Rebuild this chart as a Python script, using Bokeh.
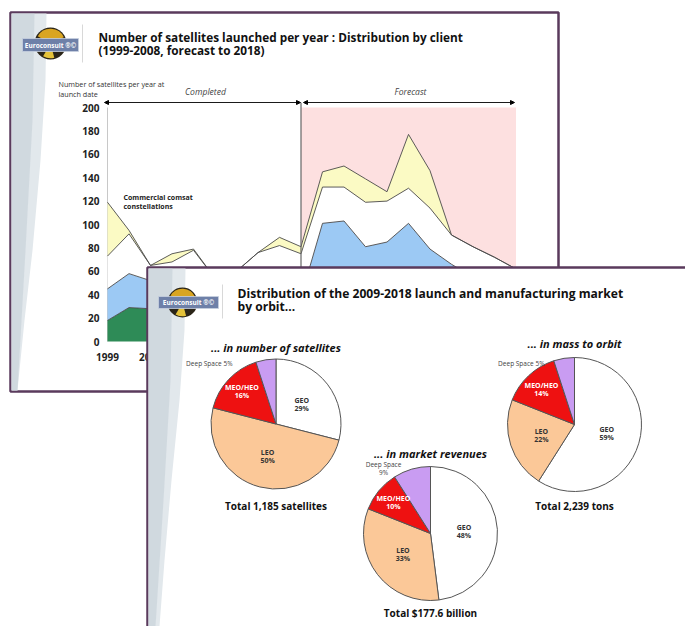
import numpy as np
from bokeh.plotting import figure
from bokeh.models import Range1d, Arrow, NormalHead, ColumnDataSource
from bokeh.core.properties import value
from bokeh.embed import file_html
from bokeh.resources import INLINE

W, H = 685, 626

# ---- launches per year, stacked by client (1999-2008 actual, 2009-2018 forecast)
YEARS = list(range(1999, 2019))
government = [18, 29, 28, 26, 25, 22, 20, 22, 24, 18, 30, 32, 28, 28, 30, 26, 24, 22, 20, 18]
commercial_geo = [27, 29, 24, 22, 25, 18, 22, 23, 26, 20, 71, 71, 53, 57, 71, 53, 42, 33, 30, 27]
other_clients = [28, 34, 13, 20, 28, 14, 18, 31, 32, 37, 31, 29, 38, 35, 30, 35, 25, 26, 22, 17]
constellations = [46, 3, 0, 7, 1, 0, 0, 0, 7, 6, 13, 18, 20, 8, 46, 32, 0, 0, 0, 0]
FORECAST_START = 2008
Y_TICKS = [0, 20, 40, 60, 80, 100, 120, 140, 160, 180, 200]
X_TICKS = list(range(1999, 2019, 2))

# ---- market split by orbit, 2009-2018 (percent)
ORBITS = ["GEO", "LEO", "MEO/HEO", "Deep Space"]
share_count = [29, 50, 16, 5]
share_mass = [59, 22, 14, 5]
share_revenue = [48, 33, 10, 9]
TOTALS = ["Total 1,185 satellites", "Total 2,239 tons", "Total $177.6 billion"]
SUBTITLES = ["... in number of satellites", "... in mass to orbit", "... in market revenues"]

ORBIT_COLORS = ["#ffffff", "#fbc898", "#ee1111", "#c99cf2"]
ORBIT_TEXT = ["#333333", "#333333", "#ffffff", "#444444"]
LABEL_RADIUS = [0.50, 0.52, 0.72, 0.0]

FRAME = "#5a3a5c"
FONT = "Open Sans"

p = figure(width=W, height=H, x_range=Range1d(0, W), y_range=Range1d(0, H),
           output_backend="svg", toolbar_location=None, min_border=0,
           x_axis_location=None, y_axis_location=None)
p.grid.visible = False
p.outline_line_color = None
p.background_fill_color = "white"
p.border_fill_color = "white"


def Y(py):
    """screen row -> canvas y"""
    return H - py


def label(x, py, txt, size, style="normal", align="left", baseline="middle",
          color="#222222", **kw):
    p.text(x=[x], y=[Y(py)], text=[txt], text_font=value(FONT),
           text_font_size=f"{size}px", text_font_style=style, text_align=align,
           text_baseline=baseline, text_color=color, **kw)


def logo(gx, gy, r, bx0, bx1, by0, by1, sep_x, sep_y0, sep_y1):
    p.circle(x=[gx], y=[Y(gy)], radius=r, radius_units="screen",
             fill_color="#2b2518", line_color=None)
    p.wedge(x=[gx], y=[Y(gy)], radius=r * 0.92, radius_units="screen",
            start_angle=np.radians(25), end_angle=np.radians(150),
            fill_color="#d9a522", line_color=None)
    p.wedge(x=[gx], y=[Y(gy)], radius=r * 0.92, radius_units="screen",
            start_angle=np.radians(240), end_angle=np.radians(285),
            fill_color="#e4c23a", line_color=None)
    p.quad(left=[bx0], right=[bx1], bottom=[Y(by1)], top=[Y(by0)],
           fill_color="#6e80a8", line_color="#c8d0e0", line_width=0.8)
    p.text(x=[(bx0 + bx1) / 2], y=[Y((by0 + by1) / 2)], text=["Euroconsult ®©"],
           text_font=value(FONT), text_font_size="6.5px", text_font_style="bold",
           text_align="center", text_baseline="middle", text_color="white")
    p.segment(x0=[sep_x], y0=[Y(sep_y0)], x1=[sep_x], y1=[Y(sep_y1)],
              line_color="#d8d8d8", line_width=1)


# ================= slide 1: launches per year =================
p.quad(left=[10], right=[558], bottom=[Y(391)], top=[Y(12)],
       fill_color="white", line_color=FRAME, line_width=2.5)
p.patch(x=[11, 46, 45, 40, 32, 24, 17, 11],
        y=[Y(13), Y(13), Y(80), Y(160), Y(250), Y(320), Y(390), Y(390)],
        fill_color="#e2e8ec", line_color=None)
p.patch(x=[11, 34, 32, 25, 17, 11],
        y=[Y(13), Y(13), Y(120), Y(250), Y(390), Y(390)],
        fill_color="#c9d3da", line_color=None, fill_alpha=0.7)
logo(50, 43, 16, 22, 78, 38, 51, 82, 24, 62)

label(98, 36, "Number of satellites launched per year : Distribution by client", 11.8,
      "bold", baseline="alphabetic", color="#111111")
label(98, 49, "(1999-2008, forecast to 2018)", 11.8, "bold", baseline="alphabetic",
      color="#111111")
label(58, 83, "Number of satellites per year at", 7.2, color="#333333")
label(58, 93, "launch date", 7.2, color="#333333")
label(205, 91, "Completed", 8.6, "italic", align="center", color="#444444")
label(410, 91, "Forecast", 8.6, "italic", align="center", color="#444444")

# chart scales: first/last year and 0/200 rows on screen
PX_FIRST, PX_LAST = 107.0, 515.5
PY_ZERO, PY_TOP = 341.0, 107.0
ppy = (PX_LAST - PX_FIRST) / (YEARS[-1] - YEARS[0])
ppu = (PY_ZERO - PY_TOP) / Y_TICKS[-1]
x0 = YEARS[0] - PX_FIRST / ppy
p.extra_x_ranges = {"yr": Range1d(x0, x0 + W / ppy)}
p.extra_y_ranges = {"val": Range1d(-(H - PY_ZERO) / ppu, PY_ZERO / ppu)}
R = dict(x_range_name="yr", y_range_name="val")

p.quad(left=[FORECAST_START], right=[YEARS[-1]], bottom=[0], top=[Y_TICKS[-1]],
       fill_color="#fde0e0", line_color=None, **R)
p.segment(x0=[YEARS[0]], y0=[0], x1=[YEARS[0]], y1=[Y_TICKS[-1]],
          line_color="#c8c8c8", line_width=1, **R)

src = ColumnDataSource(dict(year=YEARS, government=government,
                            commercial_geo=commercial_geo,
                            other_clients=other_clients,
                            constellations=constellations))
stack = ["government", "commercial_geo", "other_clients", "constellations"]
p.varea_stack(stackers=stack, x="year",
              color=["#2e8b57", "#9cc9f4", "#ffffff", "#fbfac4"], source=src, **R)
p.vline_stack(stackers=stack, x="year", color="#4a4a4a", line_width=0.9,
              source=src, **R)

p.segment(x0=[FORECAST_START], y0=[0], x1=[FORECAST_START], y1=[Y_TICKS[-1] + 4],
          line_color="#666666", line_width=1.2, **R)

for xa, xb in [(104, 300), (303, 514)]:
    p.add_layout(Arrow(start=NormalHead(size=4, fill_color="black", line_color="black"),
                       end=NormalHead(size=4, fill_color="black", line_color="black"),
                       x_start=xa, y_start=Y(102), x_end=xb, y_end=Y(102),
                       line_color="black", line_width=0.9))

p.text(x=[YEARS[0]] * len(Y_TICKS), y=Y_TICKS, text=[str(t) for t in Y_TICKS],
       x_offset=-8, text_align="right", text_baseline="middle",
       text_font=value(FONT), text_font_size="10px", text_font_style="bold",
       text_color="#222222", **R)
p.text(x=X_TICKS, y=[0] * len(X_TICKS), text=[str(t) for t in X_TICKS],
       y_offset=15, text_align="center", text_baseline="middle",
       text_font=value(FONT), text_font_size="10px", text_font_style="bold",
       text_color="#222222", **R)

label(123, 197, "Commercial comsat", 7, "bold", color="#222222")
label(123, 206, "constellations", 7, "bold", color="#222222")

# ================= slide 2: split by orbit =================
p.quad(left=[147], right=[W + 20], bottom=[Y(H + 20)], top=[Y(267)],
       fill_color="white", line_color=FRAME, line_width=2.5)
p.patch(x=[148, 185, 184, 179, 171, 164, 159, 148],
        y=[Y(268), Y(268), Y(330), Y(400), Y(480), Y(560), Y(H), Y(H)],
        fill_color="#e2e8ec", line_color=None)
p.patch(x=[148, 172, 170, 163, 155, 148],
        y=[Y(268), Y(268), Y(380), Y(500), Y(H), Y(H)],
        fill_color="#c9d3da", line_color=None, fill_alpha=0.7)
logo(182, 302, 15, 158, 218, 296, 308, 222, 284, 318)

label(237, 293, "Distribution of the 2009-2018 launch and manufacturing market", 12.1,
      "bold", baseline="alphabetic", color="#111111")
label(237, 306, "by orbit...", 12.1, "bold", baseline="alphabetic", color="#111111")

PIES = [
    dict(share=share_count, cx=275.5, cy=423.5, r=65, title_dy=-77, total_dy=82,
         deep=(232, 363, "right", ["Deep Space 5%"])),
    dict(share=share_mass, cx=574.0, cy=424.0, r=67, title_dy=-81, total_dy=81,
         deep=(544, 363, "right", ["Deep Space 5%"])),
    dict(share=share_revenue, cx=430.0, cy=533.0, r=67, title_dy=-80, total_dy=79,
         deep=(383, 464, "center", ["Deep Space", "9%"])),
]

for pie, subtitle, total in zip(PIES, SUBTITLES, TOTALS):
    frac = np.array(pie["share"], dtype=float) / sum(pie["share"])
    cum = np.concatenate([[0.0], np.cumsum(frac)])
    starts = np.pi / 2 - 2 * np.pi * cum[:-1]
    ends = np.pi / 2 - 2 * np.pi * cum[1:]
    cx, cy, r = pie["cx"], Y(pie["cy"]), pie["r"]
    p.wedge(x=[cx] * 4, y=[cy] * 4, radius=r, radius_units="screen",
            start_angle=starts, end_angle=ends, direction="clock",
            fill_color=ORBIT_COLORS, line_color="#555555", line_width=1)
    mids = (starts + ends) / 2
    for i in range(3):
        lx = cx + np.cos(mids[i]) * r * LABEL_RADIUS[i]
        ly = cy + np.sin(mids[i]) * r * LABEL_RADIUS[i]
        p.text(x=[lx, lx], y=[ly + 4, ly - 4],
               text=[ORBITS[i], f"{pie['share'][i]}%"],
               text_font=value(FONT), text_font_size="7px", text_font_style="bold",
               text_align="center", text_baseline="middle",
               text_color=ORBIT_TEXT[i])
    dx, dy, al, lines = pie["deep"]
    for k, ln in enumerate(lines):
        label(dx, dy + 8 * k, ln, 6.5, align=al, color="#444444")
    label(cx, pie["cy"] + pie["title_dy"], subtitle, 11, "bold italic",
          align="center", color="#111111")
    label(cx, pie["cy"] + pie["total_dy"], total, 10, "bold", align="center",
          color="#111111")

open("out.html", "w").write(file_html(p, INLINE))
